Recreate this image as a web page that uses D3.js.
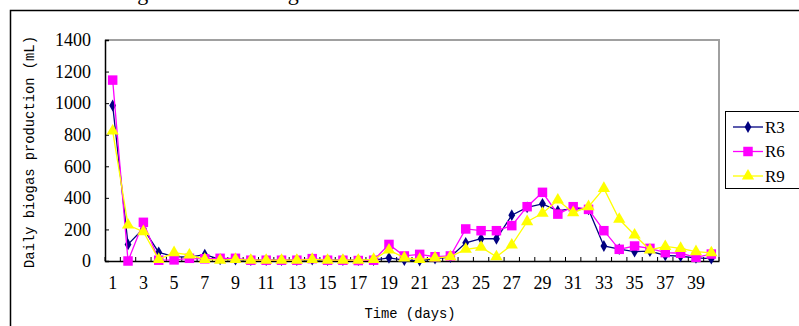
<!DOCTYPE html>
<html><head><meta charset="utf-8">
<script src="https://cdn.jsdelivr.net/npm/d3@7"></script>
<style>html,body{margin:0;padding:0;background:#fff;overflow:hidden}</style>
</head><body>
<svg id="c" width="799" height="326"></svg>
<script>
const days = d3.range(1, 41);
const yTicks = [0, 200, 400, 600, 800, 1000, 1200, 1400];
const seriesNames = ["R3", "R6", "R9"];
const r3 = [985, 105, 205, 55, 28, 25, 40, 10, 8, 5, 5, 5, 5, 8, 5, 5, 5, 5, 20, 5, 3, 15, 25, 115, 141, 141, 290, 340, 362, 318, 333, 327, 95, 75, 59, 62, 35, 30, 20, 15];
const r6 = [1146, 0, 245, 5, 7, 17, 14, 17, 17, 5, 5, 5, 5, 15, 5, 5, 3, 5, 105, 32, 42, 27, 32, 203, 192, 192, 224, 344, 435, 297, 344, 327, 192, 74, 95, 80, 53, 49, 23, 44];
const r9 = [823, 228, 186, 10, 53, 38, 10, 5, 10, 5, 5, 5, 5, 10, 5, 5, 5, 10, 70, 20, 10, 20, 27, 74, 87, 27, 101, 249, 302, 386, 306, 344, 460, 264, 165, 70, 92, 80, 59, 52];
const xTitle = "Time (days)";
const yTitle = "Daily biogas production (mL)";
const caption = "Fig. 3 The total biogas";

const svg = d3.select("#c");
const L = 105, R = 719, T = 40, B = 261;
const x = d3.scaleBand().domain(days).range([L, R]).padding(0);
const y = d3.scaleLinear().domain([0, 1400]).range([B, T]);

// caption (only its descenders show at the top edge, as in the reference)
svg.append("text").attr("x", 119).attr("y", -0.5).attr("font-family", "Liberation Serif").attr("font-size", 22).text(caption);

// outer frame
svg.append("path").attr("d", "M10.5,326 L10.5,10.5 L799,10.5").attr("fill", "none").attr("stroke", "#000").attr("stroke-width", 1.5);

// plot area border (top/right gray)
svg.append("path").attr("d", `M${L},${T} L${R},${T} L${R},${B}`).attr("fill", "none").attr("stroke", "#a0a0a0").attr("stroke-width", 2);

// y axis
const ya = svg.append("g").attr("transform", `translate(${L},0)`)
  .call(d3.axisLeft(y).tickValues(yTicks).tickSize(-4).tickPadding(14).tickFormat(d3.format("d")));
ya.select(".domain").attr("stroke", "#000").attr("stroke-width", 1.5);
ya.selectAll("line").attr("stroke", "#000");
ya.selectAll("text").attr("font-family", "Liberation Serif").attr("font-size", 18).attr("fill", "#000");

// x axis labels
const xa = svg.append("g").attr("transform", `translate(0,${B})`)
  .call(d3.axisBottom(x).tickSize(0).tickPadding(15).tickFormat(d => d % 2 === 1 ? d : ""));
xa.select(".domain").attr("stroke", "#000").attr("stroke-width", 1.5);
xa.selectAll("text").attr("font-family", "Liberation Serif").attr("font-size", 18).attr("fill", "#000");
// x category boundary ticks
const bounds = days.map(d => x(d)).concat([x(days[days.length - 1]) + x.bandwidth()]);
svg.append("g").selectAll("line").data(bounds).join("line")
  .attr("x1", d => d).attr("x2", d => d).attr("y1", B).attr("y2", B - 4)
  .attr("stroke", "#000").attr("stroke-width", 1);

// titles
svg.append("text").attr("transform", `translate(34,152) rotate(-90)`).attr("text-anchor", "middle")
  .attr("font-family", "Liberation Mono").attr("font-size", 13.8).text(yTitle);
svg.append("text").attr("x", 410).attr("y", 318).attr("text-anchor", "middle")
  .attr("font-family", "Liberation Mono").attr("font-size", 13.8).text(xTitle);

const cx = d => x(d) + x.bandwidth() / 2;
const series = [
  {name: seriesNames[0], vals: r3, color: "#000080", sym: d3.symbolDiamond, size: 40},
  {name: seriesNames[1], vals: r6, color: "#ff00ff", sym: d3.symbolSquare, size: 90},
  {name: seriesNames[2], vals: r9, color: "#ffff00", sym: d3.symbolTriangle, size: 65}
];
const line = d3.line().x((v, i) => cx(days[i])).y(v => y(v));
series.forEach(s => {
  const g = svg.append("g");
  g.append("path").attr("d", line(s.vals)).attr("fill", "none").attr("stroke", s.color).attr("stroke-width", 1.3);
  g.selectAll("path.m").data(s.vals).join("path").attr("class", "m")
    .attr("transform", (v, i) => `translate(${cx(days[i])},${y(v)})`)
    .attr("d", d3.symbol().type(s.sym).size(s.size)).attr("fill", s.color);
});

// legend
const lg = svg.append("g");
lg.append("rect").attr("x", 725.5).attr("y", 111.5).attr("width", 80).attr("height", 77).attr("fill", "#fff").attr("stroke", "#000").attr("stroke-width", 1);
series.forEach((s, i) => {
  const yy = 127 + i * 24.5;
  lg.append("line").attr("x1", 733).attr("x2", 763).attr("y1", yy).attr("y2", yy).attr("stroke", s.color).attr("stroke-width", 1.3);
  lg.append("path").attr("transform", `translate(748,${yy})`).attr("d", d3.symbol().type(s.sym).size(s.size)).attr("fill", s.color);
  lg.append("text").attr("x", 765).attr("y", yy + 5.5).attr("font-family", "Liberation Serif").attr("font-size", 17).text(s.name);
});
</script>
</body></html>
